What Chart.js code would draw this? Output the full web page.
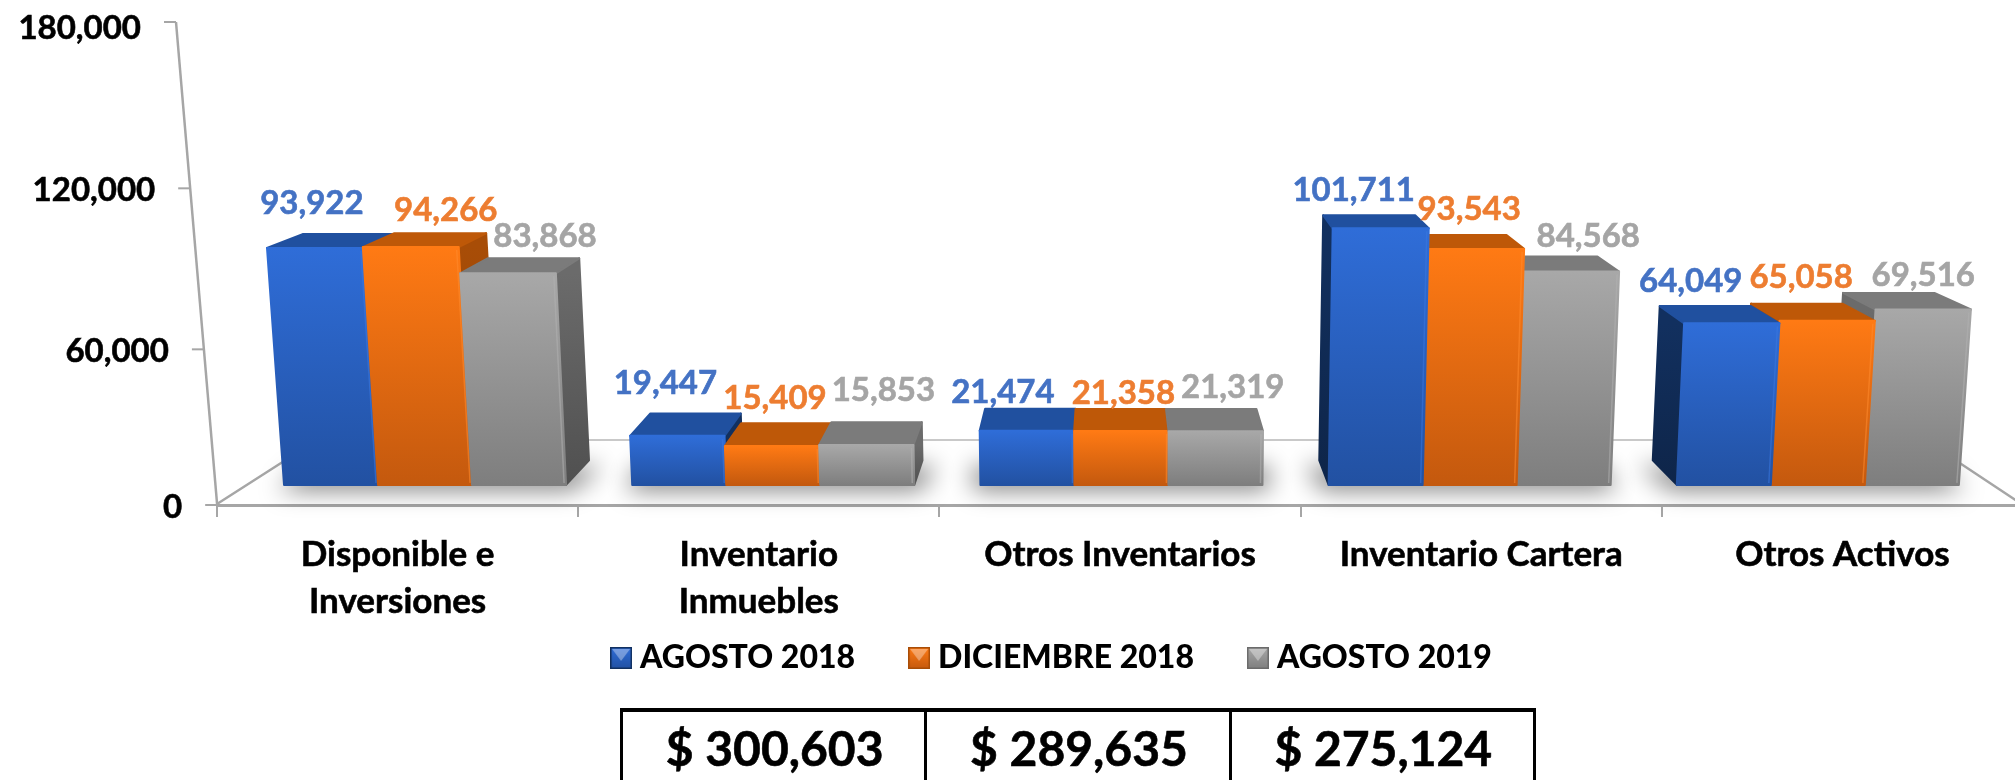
<!DOCTYPE html>
<html><head><meta charset="utf-8">
<style>
html,body{margin:0;padding:0;background:#fff;width:2015px;height:780px;overflow:hidden}
#wrap{position:relative;width:2015px;height:780px;overflow:hidden}
canvas{display:block}
table{position:absolute;left:620px;top:708px;width:916px;height:72px;border-collapse:collapse;table-layout:fixed;font:700 48px Lato,sans-serif;color:#000;-webkit-text-stroke:.6px #000}
td{border-top:4px solid #000;border-left:3px solid #000;border-right:3px solid #000;border-bottom:none;text-align:center;padding:0 0 0 2px;line-height:72px;white-space:nowrap}
</style>
<script src="https://cdn.jsdelivr.net/npm/chart.js@4"></script>
</head><body>
<div id="wrap"><canvas id="c" width="2025" height="780"></canvas>
<table><tr id="totalsRow"></tr></table></div>
<script>
const categories = [['Disponible e','Inversiones'],['Inventario','Inmuebles'],'Otros Inventarios','Inventario Cartera','Otros Activos'];
const seriesNames = ['AGOSTO 2018','DICIEMBRE 2018','AGOSTO 2019'];
const agosto2018 = [93922,19447,21474,101711,64049];
const diciembre2018 = [94266,15409,21358,93543,65058];
const agosto2019 = [83868,15853,21319,84568,69516];
const totals = ['$ 300,603','$ 289,635','$ 275,124'];
const yTickStep = 60000, yTickMax = 180000;

document.getElementById('totalsRow').innerHTML = totals.map(t=>'<td>'+t+'</td>').join('');

/* appearance of the perspective view */
const FONT = '700 33px Lato, sans-serif';
const palette = [
 {label:'#4472C4',top:'#2F6DD8',bot:'#2251A2',lid:'#20509F',side:'#12305F',side2:'#0E2549',edge:'#3B78E0'},
 {label:'#ED7D31',top:'#FF7A14',bot:'#C4590E',lid:'#BE5808',side:'#A84D07',side2:'#8F4106',edge:'#FF8A2E'},
 {label:'#A5A5A5',top:'#A8A8A8',bot:'#7E7E7E',lid:'#7B7B7B',side:'#6B6B6B',side2:'#505050',edge:'#B0B0B0'}
];
const labelNudges = [
 [[-3,-45],[-12,-52],[-24,-38],[-27,-38],[-41,-42]],
 [[35,-37],[3,-48],[2,-38],[-7,-40],[-26,-43]],
 [[37,-37],[17,-55],[17,-44],[17,-35],[0,-34]]
];
const frontX = x => 1120 + (x-1118.5)*0.964;
const leanAt = (x,h) => 8.4e-5*(x-1140)*h;
const depthDX = x => 0.0423*(1108-x);
const depthDY = y => -0.045*(y+60);

function poly(ctx,pts){ctx.beginPath();pts.forEach((p,i)=>i?ctx.lineTo(p[0],p[1]):ctx.moveTo(p[0],p[1]));ctx.closePath();}
function back(p){return [p[0]+depthDX(p[0]),p[1]+depthDY(p[1])];}

function barGeom(el){
  const x0=frontX(el.x-el.width/2), x1=frontX(el.x+el.width/2);
  const h=el.base-el.y;
  return {x0,x1,h,base:el.base,top:el.y,
    bl:[x0,el.base],br:[x1,el.base],
    tl:[x0+leanAt(x0,h),el.y],tr:[x1+leanAt(x1,h),el.y]};
}
function paintBar(ctx,el,ds){
  const g=barGeom(el), c=palette[ds];
  ctx.save();ctx.lineJoin='round';ctx.lineWidth=2;
  const btl=back(g.tl),btr=back(g.tr),bbl=back(g.bl),bbr=back(g.br);
  const leftSide=(g.x0+g.x1)/2>1250;
  const rightSide=(g.x0+g.x1)/2<1000;
  if(rightSide||leftSide){
    const s=rightSide?[g.tr,btr,bbr,g.br]:[g.tl,btl,bbl,g.bl];
    const gr=ctx.createLinearGradient(0,g.top,0,g.base);
    gr.addColorStop(0,c.side);gr.addColorStop(1,c.side2);
    ctx.fillStyle=gr;ctx.strokeStyle=gr;poly(ctx,s);ctx.fill();ctx.stroke();
  }
  ctx.fillStyle=c.lid;ctx.strokeStyle=c.lid;poly(ctx,[g.tl,btl,btr,g.tr]);ctx.fill();ctx.stroke();
  const gf=ctx.createLinearGradient(0,g.top,0,g.base);
  gf.addColorStop(0,c.top);gf.addColorStop(1,c.bot);
  ctx.fillStyle=gf;ctx.strokeStyle=gf;poly(ctx,[g.tl,g.tr,g.br,g.bl]);ctx.fill();ctx.stroke();
  ctx.strokeStyle=c.edge;ctx.globalAlpha=.55;ctx.lineWidth=1.5;
  ctx.beginPath();ctx.moveTo(g.tr[0]-2,g.tr[1]+3);ctx.lineTo(g.br[0]-2,g.br[1]-2);ctx.stroke();
  ctx.restore();
}

const scene = {
  id:'scene',
  beforeDatasetDraw(){return false;},
  beforeDatasetsDraw(chart){
    const ctx=chart.ctx, y=chart.scales.y;
    ctx.save();
    ctx.strokeStyle='#c9c9c9';ctx.lineWidth=2;
    ctx.beginPath();ctx.moveTo(317,440);ctx.lineTo(1925,440);ctx.stroke();
    ctx.strokeStyle='#a6a6a6';ctx.lineWidth=2.5;
    ctx.beginPath();ctx.moveTo(217,504);ctx.lineTo(317,440);ctx.moveTo(2023,505);ctx.lineTo(1925,440);ctx.stroke();
    const bottom=y.bottom,top=y.top;
    const axisX=py=>176+(py-22)*41/481;
    const warp=v=>{const t=v/yTickMax;return y.getPixelForValue(v)+24*t*(1-t);};
    ctx.beginPath();ctx.moveTo(axisX(top),top);ctx.lineTo(axisX(bottom),bottom);ctx.stroke();
    ctx.font=FONT;ctx.textAlign='right';ctx.textBaseline='middle';
    y.ticks.forEach(t=>{
      const py=warp(t.value),ax=axisX(py);
      ctx.strokeStyle='#a6a6a6';ctx.lineWidth=2;
      ctx.beginPath();ctx.moveTo(ax-12,py);ctx.lineTo(ax,py);ctx.stroke();
      ctx.fillStyle='#000';ctx.strokeStyle='#000';ctx.lineWidth=.6;
      ctx.fillText(t.label,ax-35,py+2+(t.value===yTickMax?4:0));
      ctx.strokeText(t.label,ax-35,py+2+(t.value===yTickMax?4:0));
    });
    const m0=chart.getDatasetMeta(0).data,m2=chart.getDatasetMeta(2).data;
    ctx.filter='blur(12px)';ctx.fillStyle='rgba(0,0,0,.5)';
    m0.forEach((el,i)=>{
      const a=barGeom(el),b=barGeom(m2[i]);
      const l=[a.x0-6,a.base+5],r=[b.x1+6,b.base+5];
      const bl=back(a.bl),br=back(b.br);
      poly(ctx,[l,r,[br[0]+14,br[1]+6],[bl[0]-14,bl[1]+6]]);ctx.fill();
    });
    ctx.filter='none';
    ctx.restore();
  },
  afterDatasetsDraw(chart){
    const ctx=chart.ctx, n=categories.length;
    for(let i=0;i<n;i++){
      const order=i<3?[0,1,2]:[2,1,0];
      order.forEach(ds=>paintBar(ctx,chart.getDatasetMeta(ds).data[i],ds));
    }
    ctx.save();ctx.font=FONT;ctx.textAlign='center';ctx.textBaseline='middle';ctx.lineWidth=.6;
    for(let ds=0;ds<3;ds++){
      const data=chart.data.datasets[ds].data;
      chart.getDatasetMeta(ds).data.forEach((el,i)=>{
        const g=barGeom(el),nd=labelNudges[ds][i];
        const tx=data[i].toLocaleString('en-US'),lx=(g.tl[0]+g.tr[0])/2+nd[0],ly=g.top+nd[1];
        ctx.fillStyle=palette[ds].label;ctx.strokeStyle=palette[ds].label;
        ctx.fillText(tx,lx,ly);ctx.strokeText(tx,lx,ly);
      });
    }
    ctx.restore();
  }
};

function legendIcon(c){
  const s=document.createElement('canvas');s.width=s.height=22;
  const x=s.getContext('2d');
  const g=x.createLinearGradient(0,0,0,22);g.addColorStop(0,c.top);g.addColorStop(1,c.bot);
  x.fillStyle=g;x.fillRect(0,0,22,22);
  x.fillStyle='rgba(255,255,255,.35)';poly(x,[[2,2],[20,2],[11,14]]);x.fill();
  x.strokeStyle=c.side;x.lineWidth=1.5;x.strokeRect(.75,.75,20.5,20.5);
  return s;
}
const seriesValues=[agosto2018,diciembre2018,agosto2019];

new Chart(document.getElementById('c'),{
  type:'bar',
  data:{labels:categories,datasets:seriesNames.map((name,i)=>({
    label:name,data:seriesValues[i],yAxisID:'yBars',xAxisID:'x',
    backgroundColor:palette[i].top,borderWidth:0,
    barPercentage:1,categoryPercentage:0.81,
    pointStyle:legendIcon(palette[i])
  }))},
  options:{
    responsive:false,animation:false,
    layout:{autoPadding:false,padding:{left:87,right:2,top:22,bottom:96}},
    plugins:{
      tooltip:{enabled:false},
      legend:{position:'bottom',labels:{usePointStyle:true,boxWidth:6,padding:61,color:'#000',font:{family:'Lato',size:32,weight:'900'}}}
    },
    scales:{
      x:{
        offset:true,
        afterFit(s){s.height=76;s._computeLabelArea=()=>undefined;},
        grid:{offset:true,drawOnChartArea:false,color:'#a6a6a6',lineWidth:2,tickLength:12},
        border:{color:'#a6a6a6',width:3},
        ticks:{autoSkip:false,maxRotation:0,minRotation:0,padding:15,color:'#000',textStrokeColor:'#000',textStrokeWidth:.6,font:{family:'Lato',size:35,weight:'700',lineHeight:1.32}}
      },
      y:{
        min:0,max:yTickMax,
        afterFit(s){s.width=130;},
        grid:{display:false},border:{display:false},
        ticks:{display:false,stepSize:yTickStep,callback:v=>v.toLocaleString('en-US')}
      },
      yBars:{display:false,min:-7960,max:183470}
    }
  },
  plugins:[scene]
});
</script>
</body></html>
